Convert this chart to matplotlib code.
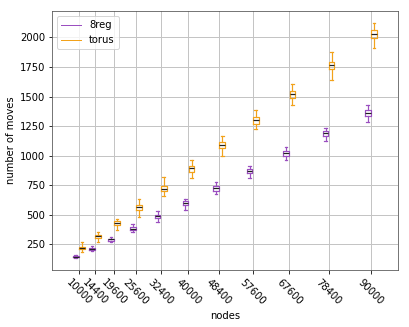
import matplotlib
matplotlib.use("Agg")
import matplotlib.pyplot as plt
from matplotlib.lines import Line2D

nodes = [10000, 14400, 19600, 25600, 32400, 40000, 48400, 57600, 67600, 78400, 90000]

reg_med = [145, 213, 292, 382, 487, 600, 723, 867, 1019, 1188, 1360]
reg_q1 = [140, 205, 283, 370, 472, 582, 705, 850, 998, 1165, 1335]
reg_q3 = [150, 220, 300, 395, 502, 618, 742, 885, 1040, 1210, 1385]
reg_lo = [135, 196, 267, 351, 441, 540, 678, 808, 960, 1121, 1281]
reg_hi = [160, 238, 314, 419, 534, 635, 776, 912, 1070, 1233, 1425]

tor_med = [216, 320, 433, 565, 720, 892, 1089, 1301, 1518, 1765, 2025]
tor_q1 = [208, 308, 418, 545, 700, 865, 1065, 1270, 1490, 1735, 1997]
tor_q3 = [225, 333, 448, 585, 740, 915, 1115, 1330, 1545, 1795, 2059]
tor_lo = [182, 267, 371, 481, 656, 808, 996, 1222, 1425, 1641, 1907]
tor_hi = [269, 351, 466, 633, 816, 960, 1163, 1388, 1602, 1878, 2123]

labels = ["8reg", "torus"]
purple = "#9b4fc0"
orange = "#f2a21b"

plt.rcParams["font.size"] = 10
fig = plt.figure(figsize=(409 / 72, 327 / 72), dpi=72)
ax = fig.add_axes([0.127, 0.174, 0.846, 0.792])

def stats(q1, med, q3, lo, hi):
    return [dict(med=m, q1=a, q3=b, whislo=l, whishi=h, fliers=[])
            for a, m, b, l, h in zip(q1, med, q3, lo, hi)]

off = 850
w = 1500
for st, sign, col in [(stats(reg_q1, reg_med, reg_q3, reg_lo, reg_hi), -1, purple),
                      (stats(tor_q1, tor_med, tor_q3, tor_lo, tor_hi), 1, orange)]:
    ax.bxp(st, positions=[n + sign * off for n in nodes], widths=w,
           manage_ticks=False,
           boxprops=dict(color=col, lw=1.2),
           whiskerprops=dict(color=col, lw=1.2),
           capprops=dict(color=col, lw=1.2),
           medianprops=dict(color="#222222", lw=1.2))

ax.set_xticks(nodes)
ax.set_xticklabels([str(n) for n in nodes], rotation=-45)
ax.set_yticks([250, 500, 750, 1000, 1250, 1500, 1750, 2000])
ax.set_xlim(2600, 97400)
ax.set_ylim(33, 2222)
ax.grid(True, color="#c4c4c4", lw=1)
ax.set_axisbelow(True)
for s in ax.spines.values():
    s.set_color("#555555")
ax.set_xlabel("nodes")
ax.set_ylabel("number of moves")

handles = [Line2D([], [], color=purple, lw=1), Line2D([], [], color=orange, lw=1)]
ax.legend(handles, labels, loc="upper left")

fig.savefig("out.png", dpi=72)
